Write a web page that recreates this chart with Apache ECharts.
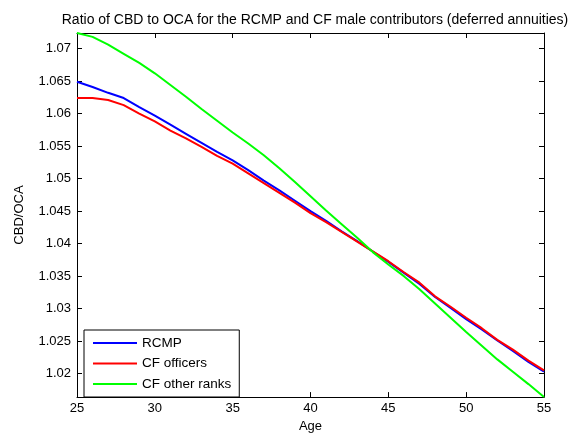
<!DOCTYPE html>
<html>
<head>
<meta charset="utf-8">
<script src="https://cdn.jsdelivr.net/npm/echarts@6/dist/echarts.min.js"></script>
<style>
    html, body { margin: 0; padding: 0; background: #fff; }
    #chart { width: 568px; height: 438px; }
</style>
</head>
<body>
<div id="chart"></div>
<script>
// 年龄
const ages = [25, 26, 27, 28, 29, 30, 31, 32, 33, 34, 35, 36, 37, 38, 39, 40,
    41, 42, 43, 44, 45, 46, 47, 48, 49, 50, 51, 52, 53, 54, 55];
const rcmp = [1.0649, 1.0641, 1.0632, 1.0624, 1.0610, 1.0597, 1.0583, 1.0569, 1.0555, 1.0541,
    1.0528, 1.0513, 1.0497, 1.0482, 1.0466, 1.0450, 1.0435, 1.0419, 1.0404, 1.0388,
    1.0372, 1.0355, 1.0338, 1.0318, 1.0301, 1.0284, 1.0268, 1.0251, 1.0235, 1.0218, 1.0203];
const cfOfficers = [1.0624, 1.0624, 1.0621, 1.0613, 1.0600, 1.0588, 1.0574, 1.0562, 1.0549, 1.0535,
    1.0523, 1.0508, 1.0493, 1.0478, 1.0463, 1.0447, 1.0433, 1.0418, 1.0403, 1.0388,
    1.0373, 1.0356, 1.0340, 1.0319, 1.0303, 1.0286, 1.0270, 1.0252, 1.0237, 1.0220, 1.0205];
const cfOtherRanks = [1.0724, 1.0718, 1.0706, 1.0692, 1.0678, 1.0662, 1.0644, 1.0626, 1.0607, 1.0589,
    1.0571, 1.0554, 1.0536, 1.0516, 1.0495, 1.0473, 1.0451, 1.0430, 1.0409, 1.0387,
    1.0368, 1.0350, 1.0330, 1.0308, 1.0286, 1.0264, 1.0243, 1.0222, 1.0203, 1.0184, 1.0164];
const seriesNames = ['RCMP', 'CF officers', 'CF other ranks'];
const colors = ['#0000ff', '#ff0000', '#00ff00'];

const font = 'Liberation Sans, Arial, sans-serif';
const pairs = arr => ages.map((a, i) => [a, arr[i]]);

const echart = echarts.init(document.getElementById('chart'));

const tick = { show: true, inside: true, length: 5, lineStyle: { color: '#000', width: 1 } };
const line = { show: true, onZero: false, lineStyle: { color: '#000', width: 1 } };

const option = {
    animation: false,
    color: colors,
    title: {
        text: 'Ratio of CBD to OCA for the RCMP and CF male contributors (deferred annuities)',
        left: 310,
        textAlign: 'center',
        top: 8,
        textStyle: { fontFamily: font, fontSize: 14, fontWeight: 'normal', color: '#000' }
    },
    grid: {
        left: 77,
        right: 24,
        top: 33,
        bottom: 36,
        containLabel: false
    },
    legend: {
        orient: 'vertical',
        left: 84,
        top: 330,
        icon: 'rect',
        itemWidth: 44,
        itemHeight: 2,
        itemGap: 6.5,
        padding: [6, 8, 6, 9],
        borderColor: '#000',
        borderWidth: 1,
        backgroundColor: '#fff',
        textStyle: { fontFamily: font, fontSize: 13.5, color: '#000' },
        data: seriesNames
    },
    xAxis: [
        {
            type: 'value',
            min: 25,
            max: 55,
            interval: 5,
            name: 'Age',
            nameLocation: 'middle',
            nameGap: 22,
            nameTextStyle: { fontFamily: font, fontSize: 13, color: '#000' },
            axisLine: line,
            axisTick: tick,
            axisLabel: { fontFamily: font, fontSize: 13, color: '#000', margin: 5 },
            splitLine: { show: false }
        },
        {
            type: 'value',
            position: 'top',
            min: 25,
            max: 55,
            interval: 5,
            axisLine: line,
            axisTick: tick,
            axisLabel: { show: false },
            splitLine: { show: false }
        }
    ],
    yAxis: [
        {
            type: 'value',
            min: 1.0164,
            max: 1.0724,
            splitNumber: 11,
            name: 'CBD/OCA',
            nameLocation: 'middle',
            nameGap: 51,
            nameTextStyle: { fontFamily: font, fontSize: 13, color: '#000' },
            axisLine: line,
            axisTick: tick,
            axisLabel: {
                fontFamily: font, fontSize: 13, color: '#000', margin: 6,
                showMinLabel: false, showMaxLabel: false
            },
            splitLine: { show: false }
        },
        {
            type: 'value',
            position: 'right',
            min: 1.0164,
            max: 1.0724,
            splitNumber: 11,
            axisLine: line,
            axisTick: tick,
            axisLabel: { show: false },
            splitLine: { show: false }
        }
    ],
    series: [rcmp, cfOfficers, cfOtherRanks].map((arr, i) => ({
        name: seriesNames[i],
        type: 'line',
        data: pairs(arr),
        symbol: 'none',
        lineStyle: { width: 2, color: colors[i] },
        itemStyle: { color: colors[i] }
    }))
};
echart.setOption(option);
</script>
</body>
</html>
